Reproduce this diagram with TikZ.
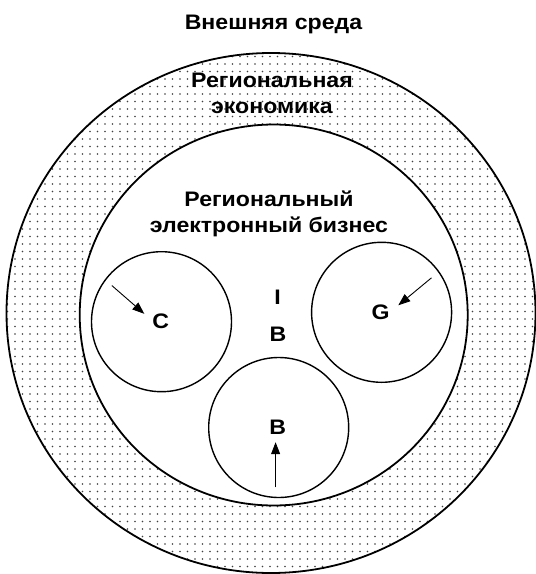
\documentclass[tikz,border=0pt]{standalone}
\usepackage{fontspec}
\setmainfont{Liberation Sans}
\usetikzlibrary{patterns.meta,arrows.meta}
\begin{document}
\begin{tikzpicture}[x=1pt,y=-1pt,
  lbl/.style={font=\fontsize{21}{26}\selectfont\bfseries, align=center, inner sep=0pt, xscale=1.1},
  small/.style={draw=black, line width=1.4pt},
  arr/.style={line width=0.9pt, -{Triangle[length=12pt,width=9pt]}}]
\useasboundingbox (0,0) rectangle (536,574);
\fill[white] (0,0) rectangle (536,574);
% dotted ring
\path[pattern={Dots[radius=0.8pt,distance=7.5pt]}, pattern color=black!75, even odd rule]
  (271,313) ellipse [x radius=264.5, y radius=260]
  (273.7,315) ellipse [x radius=194, y radius=190.5];
\draw[line width=1.8pt] (271,313) ellipse [x radius=264.5, y radius=260];
\draw[line width=1.8pt] (273.7,315) ellipse [x radius=194, y radius=190.5];
% small circles
\node[small, circle, minimum size=140pt, inner sep=0pt] (cC) at (161.5,321.7) {};
\node[small, circle, minimum size=140pt, inner sep=0pt] (cG) at (381.6,312.3) {};
\node[small, circle, minimum size=140pt, inner sep=0pt] (cB) at (278.7,427.5) {};
% texts
\node[lbl] (title) at (273.5,24) {Внешняя среда};
\node[lbl] (econ) at (272,93) {Региональная\\экономика};
\node[lbl] (biz) at (269,214) {Региональный\\электронный бизнес};
\node[lbl] (I) at (277.6,297) {I};
\node[lbl] (Bm) at (278,334.7) {B};
\node[lbl] (C) at (160.7,321) {C};
\node[lbl] (G) at (380.5,312) {G};
\node[lbl] (B) at (277.6,427.5) {B};
% arrows
\coordinate (aC) at (111.8,285.5);
\coordinate (tC) at (144.3,313.8);
\coordinate (aG) at (431.5,277.8);
\coordinate (tG) at (398.3,305.3);
\coordinate (aB) at (275.6,487.3);
\coordinate (tB) at (275.6,442.2);
\draw[arr] (aC) -- (tC);
\draw[arr] (aG) -- (tG);
\draw[arr] (aB) -- (tB);
\end{tikzpicture}
\end{document}
